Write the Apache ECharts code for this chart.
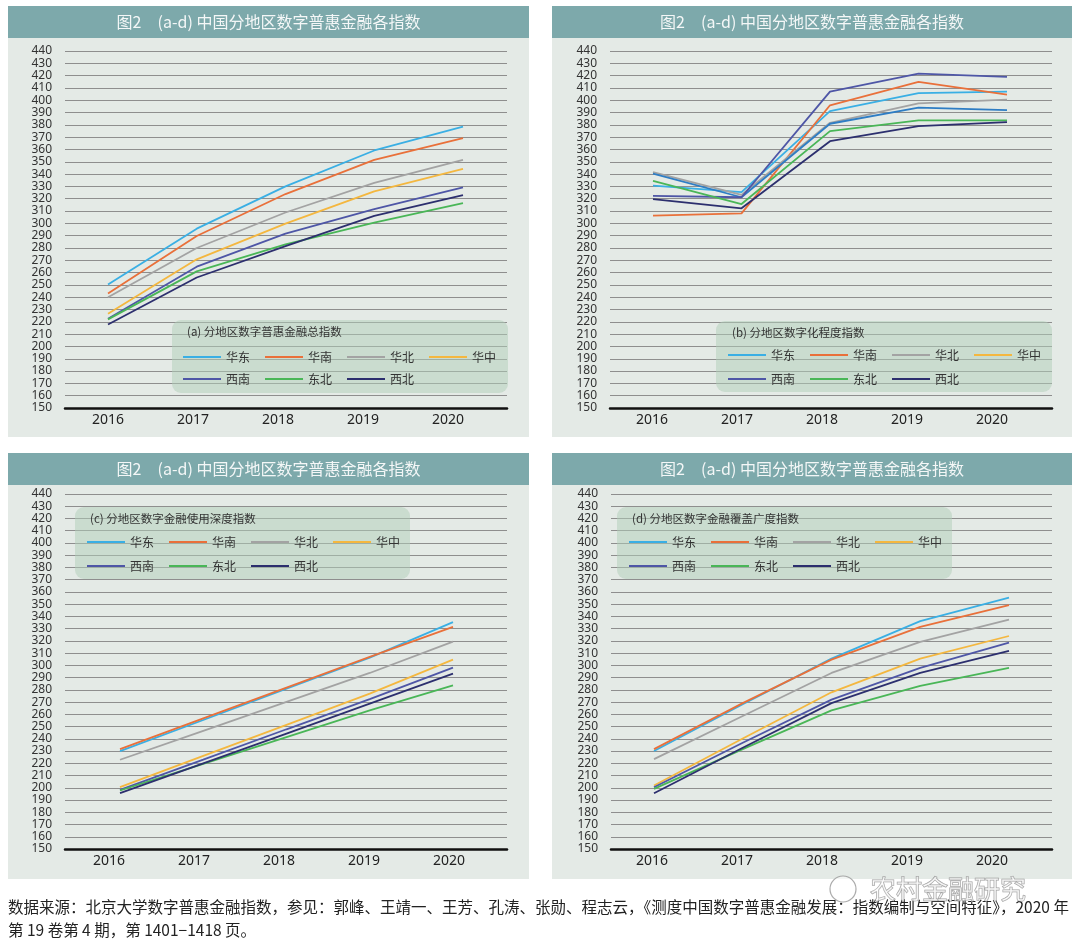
<!DOCTYPE html>
<html>
<head>
<meta charset="utf-8">
<script src="https://cdn.jsdelivr.net/npm/echarts@6/dist/echarts.min.js"></script>
<style>
html,body{margin:0;padding:0;background:#fff;}
#chart{width:1080px;height:943px;}
</style>
</head>
<body>
<div id="chart"></div>
<script>
// ---------- data ----------
const years = [2016, 2017, 2018, 2019, 2020];
const regions = ['华东', '华南', '华北', '华中', '西南', '东北', '西北'];
const yMin = 150, yMax = 440, yStep = 10;

const panelTitle = '图2\u3000(a-d) 中国分地区数字普惠金融各指数';
const legendTitles = [
  '(a) 分地区数字普惠金融总指数',
  '(b) 分地区数字化程度指数',
  '(c) 分地区数字金融使用深度指数',
  '(d) 分地区数字金融覆盖广度指数'
];

// (a) total index, rows in region order
const totalIndex = [
  [250.3, 295.7, 330.0, 359.2, 378.6],
  [243.0, 289.7, 323.8, 351.6, 369.3],
  [240.0, 280.0, 308.8, 332.8, 351.6],
  [226.5, 270.8, 299.8, 326.0, 344.2],
  [222.5, 264.8, 291.6, 311.5, 329.2],
  [222.0, 261.0, 283.0, 300.6, 316.4],
  [217.8, 256.0, 281.5, 306.0, 323.0]
];
// (b) digitization level index
const digitIndex = [
  [330.7, 325.3, 391.2, 405.7, 407.0],
  [306.2, 308.1, 395.9, 414.9, 404.6],
  [341.6, 323.1, 381.7, 397.5, 400.5],
  [340.3, 321.2, 380.9, 394.0, 392.0],
  [322.3, 321.2, 407.0, 421.7, 419.0],
  [334.5, 315.7, 374.9, 383.6, 383.6],
  [319.6, 312.2, 366.7, 379.0, 382.2]
];
// (c) usage depth index
const depthIndex = [
  [230.0, 255.4, 280.9, 306.3, 335.3],
  [231.6, 256.7, 281.8, 306.9, 331.4],
  [222.9, 246.5, 270.2, 293.8, 319.4],
  [200.5, 226.0, 251.4, 276.9, 304.7],
  [198.3, 223.0, 247.8, 272.5, 298.2],
  [197.8, 219.6, 241.4, 263.2, 283.7],
  [195.6, 220.0, 244.3, 268.7, 293.2]
];
// (d) coverage breadth index
const breadthIndex = [
  [230.0, 268.2, 305.5, 336.1, 355.4],
  [231.6, 269.2, 304.7, 331.4, 349.2],
  [223.4, 258.6, 293.8, 319.2, 337.4],
  [201.9, 240.3, 278.0, 305.5, 324.0],
  [200.5, 236.8, 272.0, 297.9, 318.6],
  [199.1, 231.6, 263.2, 283.2, 297.9],
  [195.6, 232.7, 269.2, 293.8, 311.8]
];

const footLine1 = '数据来源：北京大学数字普惠金融指数，参见：郭峰、王靖一、王芳、孔涛、张勋、程志云，《测度中国数字普惠金融发展：指数编制与空间特征》，2020 年';
const footLine2 = '第 19 卷第 4 期，第 1401−1418 页。';
const watermark = '农村金融研究';

// ---------- styling ----------
const regionColors = ['#3AAFE4', '#E9703A', '#A3A3A3', '#F4B73F', '#4E56A6', '#49B657', '#2C2F6E'];
const panelDatasets = [totalIndex, digitIndex, depthIndex, breadthIndex];
const NUM = "'Noto Sans', 'Noto Sans CJK SC', sans-serif";
const CJK = "'Noto Sans CJK SC', 'Noto Sans', sans-serif";

const panels = [
  { x: 8,   y: 6,   w: 521, h: 431, grid: { left: 65,  top: 51,  width: 442, height: 357 },
    dataRange: [2015.5155, 2020.4958], labelRange: [2015.4941, 2020.6941],
    box: [172, 320, 336, 73], legendLeft: 183, legendTop: [350, 372], ltitle: [187, 332] },
  { x: 552, y: 6,   w: 520, h: 431, grid: { left: 610, top: 51,  width: 442, height: 357 },
    dataRange: [2015.5141, 2020.5085], labelRange: [2015.506, 2020.706],
    box: [716, 321, 336, 71], legendLeft: 728, legendTop: [348, 372], ltitle: [732, 333] },
  { x: 8,   y: 453, w: 521, h: 426, grid: { left: 65,  top: 494, width: 442, height: 355 },
    dataRange: [2015.3393, 2020.6486], labelRange: [2015.482, 2020.682],
    box: [75, 507, 335, 72], legendLeft: 87, legendTop: [535, 559], ltitle: [90, 519] },
  { x: 552, y: 453, w: 520, h: 426, grid: { left: 611, top: 494, width: 441, height: 355 },
    dataRange: [2015.5155, 2020.4845], labelRange: [2015.518, 2020.706],
    box: [617, 507, 335, 72], legendLeft: 629, legendTop: [535, 559], ltitle: [632, 519] }
];

const grids = [], xAxes = [], yAxes = [], series = [], legends = [], graphics = [];

panels.forEach((p, pi) => {
  // panel background and title band
  graphics.push({ type: 'rect', z: -10, shape: { x: p.x, y: p.y, width: p.w, height: p.h }, style: { fill: '#E4EAE6' } });
  graphics.push({ type: 'rect', z: -9, shape: { x: p.x, y: p.y, width: p.w, height: 32 }, style: { fill: '#7DA9AB' } });
  graphics.push({ type: 'text', z: 10, x: p.x + p.w / 2, y: p.y + 16,
    style: { text: panelTitle, fill: '#F4F7F7', font: '16px ' + CJK, textAlign: 'center', textVerticalAlign: 'middle' } });
  // legend box
  graphics.push({ type: 'rect', z: 1, shape: { x: p.box[0], y: p.box[1], width: p.box[2], height: p.box[3], r: 9 },
    style: { fill: 'rgba(176,205,184,0.5)' } });
  graphics.push({ type: 'text', z: 10, x: p.ltitle[0], y: p.ltitle[1],
    style: { text: legendTitles[pi], fill: '#333', font: '11.5px ' + CJK, textAlign: 'left', textVerticalAlign: 'middle' } });

  grids.push(Object.assign({ containLabel: false }, p.grid));

  // visible label axis
  xAxes.push({
    type: 'value', gridIndex: pi, position: 'bottom',
    min: p.labelRange[0], max: p.labelRange[1],
    axisLine: { show: true, onZero: false, lineStyle: { color: '#111', width: 2.5 } },
    axisTick: { show: false },
    splitLine: { show: false },
    axisLabel: { customValues: years, formatter: v => String(Math.round(v)), fontSize: 14, color: '#222', fontFamily: NUM, margin: 5 }
  });
  // hidden data axis
  xAxes.push({
    type: 'value', gridIndex: pi, position: 'bottom', show: false,
    min: p.dataRange[0], max: p.dataRange[1]
  });
  yAxes.push({
    type: 'value', gridIndex: pi, min: yMin, max: yMax, interval: yStep,
    axisLine: { show: false }, axisTick: { show: false },
    axisLabel: { fontSize: 12, color: '#333', fontFamily: NUM, margin: 13 },
    splitLine: { show: true, lineStyle: { color: '#8E8E8E', width: 1 } }
  });

  const ds = panelDatasets[pi];
  regions.forEach((name, ri) => {
    let lineColor = regionColors[ri];
    if (pi === 1 && ri === 3) lineColor = '#2E7DC4';
    series.push({
      type: 'line', name: name, xAxisIndex: pi * 2 + 1, yAxisIndex: pi,
      data: years.map((yr, i) => [yr, ds[ri][i]]),
      showSymbol: false, symbol: 'none', smooth: false, z: 2 + ri * 0.01,
      lineStyle: { color: lineColor, width: 1.8 },
      itemStyle: { color: lineColor },
      emphasis: { disabled: true }
    });
  });

  const mkItems = arr => arr.map(ri => ({ name: regions[ri], icon: 'rect', itemStyle: { color: regionColors[ri] } }));
  const legendBase = {
    orient: 'horizontal', left: p.legendLeft, padding: 0,
    itemWidth: 38, itemHeight: 2.2, itemGap: 15, selectedMode: false,
    textStyle: { fontSize: 12, color: '#333', fontFamily: CJK, lineHeight: 14 }
  };
  legends.push(Object.assign({}, legendBase, { top: p.legendTop[0], data: mkItems([0, 1, 2, 3]) }));
  legends.push(Object.assign({}, legendBase, { top: p.legendTop[1], data: mkItems([4, 5, 6]) }));
});

// footer
graphics.push({ type: 'text', z: 10, x: 8, y: 907,
  style: { text: footLine1, fill: '#222', font: '15.5px ' + CJK, textAlign: 'left', textVerticalAlign: 'middle' } });
graphics.push({ type: 'text', z: 10, x: 8, y: 930,
  style: { text: footLine2, fill: '#222', font: '15.5px ' + CJK, textAlign: 'left', textVerticalAlign: 'middle' } });
// watermark
graphics.push({ type: 'circle', z: 11, shape: { cx: 843, cy: 889, r: 13 }, style: { fill: 'rgba(255,255,255,0.5)', stroke: 'rgba(150,150,150,0.8)', lineWidth: 1.2 } });
graphics.push({ type: 'text', z: 11, x: 870, y: 889,
  style: { text: watermark, fill: 'rgba(255,255,255,0.55)', stroke: 'rgba(140,140,140,0.85)', lineWidth: 1, font: '26px ' + CJK, textAlign: 'left', textVerticalAlign: 'middle' } });

const chart = echarts.init(document.getElementById('chart'), null, { renderer: 'canvas' });
chart.setOption({
  backgroundColor: '#FFFFFF',
  animation: false,
  grid: grids,
  xAxis: xAxes,
  yAxis: yAxes,
  legend: legends,
  series: series,
  graphic: graphics
});
</script>
</body>
</html>
